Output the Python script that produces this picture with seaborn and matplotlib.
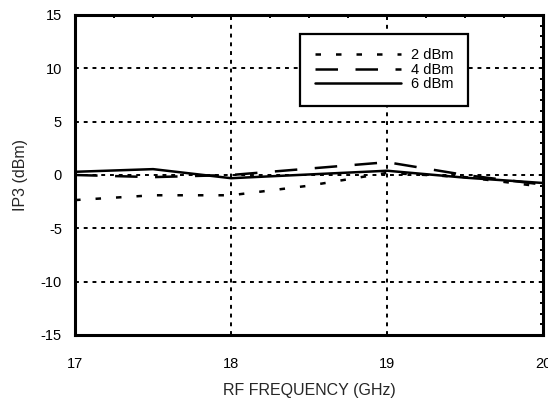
# IP3 vs RF frequency for three LO drive levels
import numpy as np
import pandas as pd
import matplotlib
matplotlib.use("Agg")
import matplotlib.pyplot as plt
import seaborn as sns
from matplotlib.ticker import MultipleLocator

# data
freq_ghz = [17, 17.5, 18, 18.5, 19, 19.5, 20]
ip3_2dbm = [-2.35, -1.9, -1.9, -1.0, 0.2, -0.2, -1.1]
ip3_4dbm = [0.0, -0.2, 0.0, 0.6, 1.2, 0.0, -0.9]
ip3_6dbm = [0.3, 0.55, -0.3, 0.05, 0.4, -0.25, -0.75]
series_labels = ["2 dBm", "4 dBm", "6 dBm"]

sns.set_theme(style="white")
plt.rcParams['font.family'] = ['Liberation Sans', 'DejaVu Sans']
plt.rcParams['axes.unicode_minus'] = False

fig = plt.figure(figsize=(5.48, 4.0), dpi=100)
ax = fig.add_axes([0.137, 0.1625, 0.854, 0.8])

styles = [(0, (2.2, 6.0)), (0, (9.0, 7.0)), '-']
for vals, label, ls in zip([ip3_2dbm, ip3_4dbm, ip3_6dbm], series_labels, styles):
    sns.lineplot(x=freq_ghz, y=vals, ax=ax, color='black', linewidth=1.8,
                 linestyle=ls, label=label)

ax.set_xlim(17, 20)
ax.set_ylim(-15, 15)
ax.xaxis.set_major_locator(MultipleLocator(1))
ax.xaxis.set_minor_locator(MultipleLocator(0.25))
ax.yaxis.set_major_locator(MultipleLocator(5))
ax.yaxis.set_minor_locator(MultipleLocator(1))

ax.grid(True, which='major', color='black', linestyle=(0, (2, 2.5)), linewidth=1.4)
for sp in ax.spines.values():
    sp.set_visible(True)
    sp.set_color('black')
    sp.set_linewidth(2.2)

ax.tick_params(which='both', direction='in', top=True, right=True, colors='black')
ax.tick_params(which='major', length=3, width=1.4)
ax.tick_params(which='minor', length=2.5, width=1.4)
ax.tick_params(axis='x', which='major', pad=15.5, labelsize=10.5)
ax.tick_params(axis='y', which='major', pad=9.5, labelsize=10.5)

ax.set_xlabel('RF FREQUENCY (GHz)', fontsize=11.5, labelpad=9)
ax.set_ylabel('IP3 (dBm)', fontsize=11.5, labelpad=9)

leg = ax.legend(loc='upper left', bbox_to_anchor=(0.481, 0.941), borderaxespad=0,
                fontsize=10.5, handlelength=5.9, handletextpad=0.7,
                labelspacing=0.02, borderpad=1.0, fancybox=False, framealpha=1)
leg.get_frame().set_edgecolor('black')
leg.get_frame().set_linewidth(1.6)
for t in leg.get_texts():
    t.set_color('black')

fig.savefig('out.png', dpi=100)
